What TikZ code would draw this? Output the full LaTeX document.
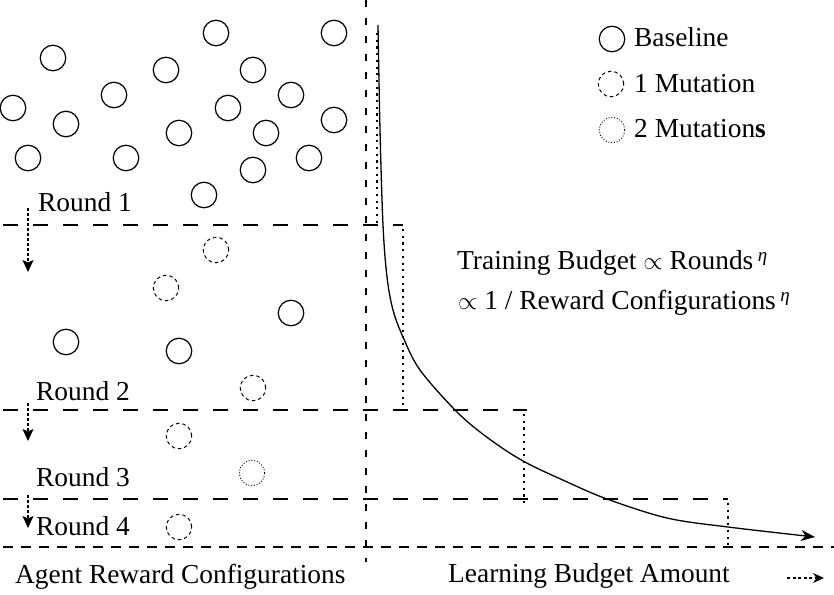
\documentclass[tikz,border=0pt]{standalone}
\usepackage{fontspec}
\setmainfont{Liberation Serif}
\usetikzlibrary{arrows.meta}
\begin{document}
\begin{tikzpicture}[x=1pt,y=-1pt,
  base/.style={circle, draw, line width=1.2pt, minimum size=25.5pt, inner sep=0pt},
  mutone/.style={base, line width=1pt, dash pattern=on 3.5pt off 3pt},
  muttwo/.style={base, line width=0.9pt, dash pattern=on 1pt off 1.8pt},
  lbl/.style={anchor=base west, inner sep=0pt, font=\fontsize{27.4}{32}\selectfont},
  roundline/.style={line width=1.2pt, dash pattern=on 15pt off 15pt},
  axisline/.style={line width=1.2pt, dash pattern=on 10pt off 8pt},
  vline/.style={line width=1.2pt, dash pattern=on 7pt off 11pt},
  dotline/.style={line width=2.2pt, dash pattern=on 2.2pt off 4.5pt},
  roundarrow/.style={line width=1.2pt, dash pattern=on 3pt off 2pt, -{Stealth[length=12pt,width=11pt,inset=2.5pt]}},
  curvestyle/.style={line width=1.3pt, -{Stealth[length=14pt,width=11pt]}}
]
\useasboundingbox (0,0) rectangle (834,594);

% guide lines
\draw[vline] (366,0) -- (366,562);
\draw[roundline] (3,225) -- (403,225);
\draw[dotline] (377,33) -- (377,225);
\draw[dotline] (403,229) -- (403,410);
\draw[roundline] (3,410) -- (527,410);
\draw[dotline] (524,414) -- (524,505);
\draw[roundline] (3,499) -- (728,499);
\draw[dotline] (728,503) -- (728,548);
\draw[axisline] (3,547) -- (834,547);

% curve
\draw[curvestyle] plot[smooth, tension=0.55] coordinates {(378,25) (380,130) (383,225) (387,277) (393,310) (403,337) (420,370) (457,412) (488,438) (523,461) (565,481) (607,499) (667,518) (728,527) (815,537)};

% round arrows
\coordinate (ra1s) at (28,208); \coordinate (ra1e) at (28,272);
\coordinate (ra2s) at (28,403); \coordinate (ra2e) at (28,441);
\coordinate (ra3s) at (28,495); \coordinate (ra3e) at (28,528);
\draw[roundarrow] (ra1s) -- (ra1e);
\draw[roundarrow] (ra2s) -- (ra2e);
\draw[roundarrow] (ra3s) -- (ra3e);

% baseline circles
\node[base] (b1) at (216,33) {};
\node[base] (b2) at (334,33) {};
\node[base] (b3) at (53,58) {};
\node[base] (b4) at (166,70) {};
\node[base] (b5) at (253,70) {};
\node[base] (b6) at (114,95) {};
\node[base] (b7) at (13,108) {};
\node[base] (b8) at (291,95) {};
\node[base] (b9) at (228,108) {};
\node[base] (b10) at (334,120) {};
\node[base] (b11) at (66,124) {};
\node[base] (b12) at (179,133) {};
\node[base] (b13) at (266,133) {};
\node[base] (b14) at (28,158) {};
\node[base] (b15) at (126,158) {};
\node[base] (b16) at (309,158) {};
\node[base] (b17) at (253,170) {};
\node[base] (b18) at (204,195) {};
\node[base] (b19) at (291,313) {};
\node[base] (b20) at (66,342) {};
\node[base] (b21) at (179,351) {};

% mutation circles
\node[mutone] (m1) at (216,250) {};
\node[mutone] (m2) at (166,288) {};
\node[mutone] (m3) at (253,388) {};
\node[mutone] (m4) at (179,436) {};
\node[mutone] (m5) at (179,527) {};
\node[muttwo] (n1) at (252,473) {};

% legend
\node[base] (lg1) at (612,39) {};
\node[mutone] (lg2) at (611,84) {};
\node[muttwo] (lg3) at (612,130) {};
\node[lbl] (lt1) at (634,47) {Baseline};
\node[lbl] (lt2) at (634,92) {1 Mutation};
\node[lbl] (lt3) at (634,137) {2 Mutation\textbf{s}};

% round labels
\node[lbl] (r1) at (38,211) {Round 1};
\node[lbl] (r2) at (36,400) {Round 2};
\node[lbl] (r3) at (36,486) {Round 3};
\node[lbl] (r4) at (36,535) {Round 4};

% formula
\node[lbl] (f1) at (457,269) {Training Budget $\propto$ Rounds\,\raisebox{8pt}{\fontsize{19}{19}\selectfont\itshape η}};
\node[lbl] (f2) at (458,309) {$\propto$ 1 / Reward Configurations\,\raisebox{8pt}{\fontsize{19}{19}\selectfont\itshape η}};

% axis labels
\node[lbl] (ax1) at (15,583) {Agent Reward Configurations};
\node[lbl] (ax2) at (448,582) {Learning Budget Amount};
\coordinate (da1) at (787,578); \coordinate (da2) at (824,578);
\draw[line width=1.2pt, dash pattern=on 3pt off 2.5pt, -{Stealth[length=11pt,width=10pt]}] (da1) -- (da2);
\end{tikzpicture}
\end{document}
